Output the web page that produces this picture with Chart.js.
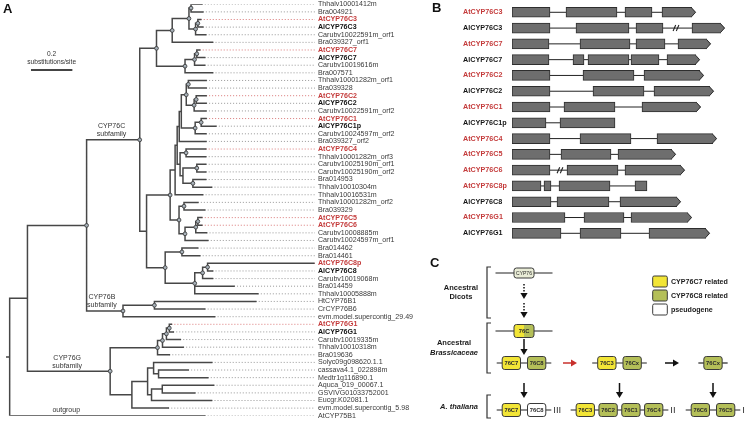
<!DOCTYPE html>
<html>
<head>
<meta charset="utf-8">
<title>CYP76C phylogeny, gene structures and synteny</title>
<script src="https://cdn.jsdelivr.net/npm/chart.js@4.4.1/dist/chart.umd.min.js"></script>
<style>
  html, body { margin: 0; padding: 0; background: #fff; }
  #page { position: relative; width: 750px; height: 421px; overflow: hidden; }
  .panel { position: absolute; }
  .tag { position: absolute; font: bold 13px/13px "Liberation Sans", Arial, sans-serif; color: #111; }
</style>
</head>
<body>
<div id="page">
  <div class="panel" style="left:0;top:-3px;width:425px;height:426px"><canvas id="treeChart"></canvas></div>
  <div class="panel" style="left:430px;top:0;width:320px;height:246px"><canvas id="geneChart"></canvas></div>
  <div class="panel" style="left:430px;top:255px;width:320px;height:166px"><canvas id="synChart"></canvas></div>
  <div class="tag" style="left:3px;top:2px">A</div>
  <div class="tag" style="left:432px;top:1px">B</div>
  <div class="tag" style="left:430px;top:256px">C</div>
</div>
<script>
const FONT = '"Liberation Sans", Arial, sans-serif';
const RED = '#c43b3b';

// ---------- A: tree, branch lengths in substitutions/site ("-" = node without circle)
const treeNewick = `(
 (
  (
   (
    (
     (
      ((Thhalv10001412m:0.052,Bra004921:0.057):0.010,
       ((AtCYP76C3:0.014,AlCYP76C3:0.024):0.011,Carubv10022591m_orf1:0.049):0.032):0.081,
      Bra039327_orf1:0.195):0.076,
     (((AtCYP76C7:0.014,AlCYP76C7:0.038):0.011,Carubv10019616m:0.049):0.046,
      Bra007571:0.133):0.138):0.081,
    (
     (
      (
       (
        (
         (((Thhalv10001282m_orf1:0.086,Bra039328:0.086):0.010,
           ((AtCYP76C2:0.048,AlCYP76C2:0.048):0.010,Carubv10022591m_orf2:0.057):0.038):0.024,
          ((AtCYP76C1:0.024,AlCYP76C1p:0.071):0.029,Carubv10024597m_orf2:0.052):0.067)-:0.010,
         Bra039327_orf2:0.129)-:0.010,
        ((AtCYP76C4:0.095,Thhalv10001282m_orf3:0.095):0.029,
         ((Carubv10025190m_orf1:0.043,Carubv10025190m_orf2:0.043):0.067,
          (Bra014953:0.062,Thhalv10010304m:0.090):0.048)-:0.014)-:0.014)-:0.010,
       Thhalv10016531m:0.133)-:0.024,
      ((Thhalv10001282m_orf2:0.067,Bra039329:0.100):0.024,
       (((AtCYP76C5:0.019,AtCYP76C6:0.019):0.010,Carubv10008885m:0.052):0.052,
        Carubv10024597m_orf1:0.110):0.029):0.043):0.114,
     ((Bra014462:0.076,Bra014461:0.086):0.081,
      (((AtCYP76C8p:0.514,AlCYP76C8:0.024):0.024,Carubv10019068m:0.048):0.038,
       Bra014459:0.190,Thhalv10005888m:0.305):0.143):0.090)-:0.033)CYP76C:0.257,
   ((HtCYP76B1:0.490,CrCYP76B6:0.243):0.152,
    evm.model.supercontig_29.49:0.443)CYP76B:0.176):0.286,
  (((((AtCYP76G1:0.010,AlCYP76G1:0.019):0.014,Carubv10019335m:0.067):0.019,
     Thhalv10010318m:0.100):0.024,Bra019636:0.057):0.229,
   (((Solyc09g098620.1.1:0.281,(cassava4.1_022898m:0.143,Medtr1g116890.1:0.238)-:0.024)-:0.029,
     ((Aquca_019_00067.1:0.248,GSVIVG01033752001:0.157)-:0.052,Eucgr.K02081.1:0.290)-:0.019)-:0.076,
    evm.model.supercontig_5.98:0.176)-:0.105)CYP76G:0.400)-:0.086,
 AtCYP75B1:0.943)-:0.014;`;

const cladeNodes = ['CYP76C', 'CYP76B', 'CYP76G', 'AtCYP75B1'];
const cladeText = [['CYP76C', 'subfamily'], ['CYP76B', 'subfamily'], ['CYP76G', 'subfamily'], ['outgroup']];
const scaleBarLen = 0.2;

// ---------- B: exon positions along each gene (as drawn), last exon arrow = coding direction
const geneNames = ['AtCYP76C3', 'AlCYP76C3', 'AtCYP76C7', 'AlCYP76C7', 'AtCYP76C2', 'AlCYP76C2',
  'AtCYP76C1', 'AlCYP76C1p', 'AtCYP76C4', 'AtCYP76C5', 'AtCYP76C6', 'AtCYP76C8p', 'AlCYP76C8',
  'AtCYP76G1', 'AlCYP76G1'];
const geneExons = [
  [[0, 38], [54, 105], [113, 140], [150, 184]],
  [[0, 38], [64, 117], [124, 151], [180, 213]],
  [[0, 37], [68, 118], [124, 153], [166, 199]],
  [[0, 37], [61, 72], [76, 117], [119, 147], [155, 188]],
  [[0, 38], [71, 122], [132, 192]],
  [[0, 38], [81, 132], [142, 202]],
  [[0, 38], [52, 103], [130, 189]],
  [[0, 34], [48, 103]],
  [[0, 38], [68, 119], [145, 205]],
  [[0, 38], [49, 99], [106, 164]],
  [[0, 38], [55, 106], [113, 173]],
  [[0, 29], [32, 39], [47, 98], [123, 135]],
  [[0, 39], [45, 97], [108, 169]],
  [[0, 53], [72, 112], [119, 180]],
  [[0, 49], [68, 109], [137, 198]]
];
const geneArrow = [true, true, true, true, true, true, true, false, true, true, true, false, true, true, true];
const geneBreaks = [null, 164, null, null, null, null, null, null, null, null, 48, null, null, null, null];

// ---------- C: synteny model
const stageLabels = [['Ancestral', 'Dicots'], ['Ancestral', 'Brassicaceae'], ['A. thaliana']];
const stageItalic = [[false, false], [false, true], [true]];
const synGenes = [
  [['CYP76']],
  [['76C']],
  [['76C7', '76C8'], ['76C3', '76Cx'], ['76Cx']],
  [['76C7', '76C8'], ['76C3', '76C2', '76C1', '76C4'], ['76C6', '76C5']]
];
const synKinds = [
  [['anc']],
  [['mix']],
  [['c7', 'c8'], ['c7', 'c8'], ['c8']],
  [['c7', 'pseudo'], ['c7', 'c8', 'c8', 'c8'], ['c8', 'c8']]
];
const chromosomes = ['III', 'II', 'I'];
const legendItems = ['CYP76C7 related', 'CYP76C8 related', 'pseudogene'];
const legendKinds = ['c7', 'c8', 'pseudo'];

// ================= tree =================
function parseNewick(str) {
  const s = str.replace(/\s+/g, '');
  let i = 0;
  function node() {
    const n = { children: [], name: '', len: 0 };
    if (s[i] === '(') {
      i++;
      n.children.push(node());
      while (s[i] === ',') { i++; n.children.push(node()); }
      i++;
    }
    while (i < s.length && !',():;'.includes(s[i])) n.name += s[i++];
    if (s[i] === ':') {
      i++;
      let num = '';
      while (i < s.length && !',();'.includes(s[i])) num += s[i++];
      n.len = parseFloat(num);
    }
    return n;
  }
  return node();
}

const tree = parseNewick(treeNewick);
const tips = [];
const inner = [];
const nodeByName = {};
(function layout(n, d) {
  n.depth = d + n.len;
  if (n.name) nodeByName[n.name] = n;
  if (!n.children.length) {
    n.y = tips.length;
    tips.push(n);
  } else {
    n.children.forEach(c => layout(c, n.depth));
    n.y = (n.children[0].y + n.children[n.children.length - 1].y) / 2;
    inner.push(n);
  }
})(tree, 0);

const PX_PER_UNIT = 210;
const TREE_W = 425, AXIS_W = 110;
const xMin = -2 / PX_PER_UNIT;
const xMax = xMin + (TREE_W - AXIS_W) / PX_PER_UNIT;

const gap = () => ({ x: null, y: null });
const branchPts = [{ x: 0, y: tree.y }, { x: tree.depth, y: tree.y }, gap()];
inner.forEach(n => {
  const cs = n.children, a = cs[0], b = cs[cs.length - 1];
  branchPts.push({ x: a.depth, y: a.y }, { x: n.depth, y: a.y }, { x: n.depth, y: b.y }, { x: b.depth, y: b.y }, gap());
  cs.slice(1, -1).forEach(c => branchPts.push({ x: n.depth, y: c.y }, { x: c.depth, y: c.y }, gap()));
});
const isAt = name => name.startsWith('AtCYP76');
const redLeaders = [], grayLeaders = [];
tips.forEach(t => {
  const arr = isAt(t.name) ? redLeaders : grayLeaders;
  arr.push({ x: t.depth, y: t.y }, { x: xMax, y: t.y }, gap());
});
const nodePts = inner.filter(n => n.name !== '-').map(n => ({ x: n.depth, y: n.y }));

const treeDecor = {
  id: 'treeDecor',
  afterDatasetsDraw(chart) {
    const { ctx, scales: { x, y } } = chart;
    ctx.save();
    ctx.fillStyle = '#333';
    ctx.textAlign = 'center';
    ctx.textBaseline = 'middle';
    ctx.font = '7px ' + FONT;
    const at = [0.47, 0.42, 0.48, 0.29];
    cladeNodes.forEach((name, i) => {
      const n = nodeByName[name];
      const x0 = x.getPixelForValue(n.depth - n.len), x1 = x.getPixelForValue(n.depth);
      const cx = x0 + (x1 - x0) * at[i];
      const cy = y.getPixelForValue(n.y);
      const lines = cladeText[i];
      lines.forEach((t, j) => ctx.fillText(t, cx, cy - 5.5 - (lines.length - 1 - j) * 8));
    });
    // scale bar (canvas sits 3px above the page top)
    const bx = 31, by = 73;
    const blen = x.getPixelForValue(scaleBarLen) - x.getPixelForValue(0);
    ctx.strokeStyle = '#444';
    ctx.lineWidth = 2;
    ctx.beginPath(); ctx.moveTo(bx, by); ctx.lineTo(bx + blen, by); ctx.stroke();
    ctx.font = '6.6px ' + FONT;
    ctx.fillText(String(scaleBarLen), bx + blen / 2, by - 16);
    ctx.fillText('substitutions/site', bx + blen / 2, by - 8);
    ctx.restore();
  }
};

new Chart(document.getElementById('treeChart'), {
  type: 'scatter',
  data: {
    datasets: [
      { data: nodePts, pointRadius: 1.9, pointBackgroundColor: '#a7b1b9', pointBorderColor: '#333', pointBorderWidth: 0.8 },
      { data: branchPts, showLine: true, borderColor: '#474747', borderWidth: 1.5, pointRadius: 0, borderCapStyle: 'square' },
      { data: redLeaders, showLine: true, borderColor: '#d66a6a', borderWidth: 0.9, borderDash: [1, 2], pointRadius: 0 },
      { data: grayLeaders, showLine: true, borderColor: '#8c8c8c', borderWidth: 0.9, borderDash: [1, 2], pointRadius: 0 }
    ]
  },
  options: {
    responsive: true,
    maintainAspectRatio: false,
    animation: false,
    events: [],
    layout: { padding: 0 },
    plugins: { legend: { display: false }, tooltip: { enabled: false } },
    scales: {
      x: { type: 'linear', display: false, min: xMin, max: xMax },
      y: {
        type: 'linear',
        position: 'right',
        reverse: true,
        min: 0,
        max: tips.length - 1,
        grid: { display: false, drawTicks: false },
        border: { display: false },
        afterBuildTicks: s => { s.ticks = tips.map((t, i) => ({ value: i })); },
        afterFit: s => { s.width = AXIS_W; },
        ticks: {
          autoSkip: false,
          padding: 3,
          callback: v => (tips[v] ? tips[v].name : ''),
          color: c => {
            const n = tips[c.index] ? tips[c.index].name : '';
            return isAt(n) ? RED : n.startsWith('AlCYP76') ? '#111' : '#3a3a3a';
          },
          font: c => {
            const n = tips[c.index] ? tips[c.index].name : '';
            return { family: FONT, size: 7.1, weight: /^A[tl]CYP76/.test(n) ? 'bold' : 'normal' };
          }
        }
      }
    }
  },
  plugins: [treeDecor]
});

// ================= gene structures =================
const EXON_FILL = '#6e6e6e', EXON_EDGE = '#2e2e2e', TIP = 4;
const exonSets = [0, 1, 2, 3, 4].map(k => ({
  data: geneExons.map((ex, i) => {
    if (!ex[k]) return null;
    const last = k === ex.length - 1 && geneArrow[i];
    return [ex[k][0], last ? ex[k][1] - TIP : ex[k][1]];
  }),
  backgroundColor: EXON_FILL,
  borderColor: EXON_EDGE,
  borderWidth: 1,
  borderSkipped: c => (geneArrow[c.dataIndex] && c.datasetIndex === geneExons[c.dataIndex].length - 1 ? 'right' : false),
  barThickness: 10,
  grouped: false
}));

const geneParts = {
  id: 'geneParts',
  beforeDatasetsDraw(chart) {
    const { ctx, scales: { x, y } } = chart;
    ctx.save();
    ctx.strokeStyle = '#222';
    ctx.lineWidth = 1;
    geneExons.forEach((ex, i) => {
      const yy = y.getPixelForValue(i);
      for (let k = 0; k < ex.length - 1; k++) {
        ctx.beginPath();
        ctx.moveTo(x.getPixelForValue(ex[k][1]), yy);
        ctx.lineTo(x.getPixelForValue(ex[k + 1][0]), yy);
        ctx.stroke();
      }
      if (geneBreaks[i] !== null) {
        const bx = x.getPixelForValue(geneBreaks[i]);
        ctx.lineWidth = 1.1;
        [-1.6, 1.6].forEach(o => {
          ctx.beginPath();
          ctx.moveTo(bx + o - 1.3, yy + 3);
          ctx.lineTo(bx + o + 1.3, yy - 3);
          ctx.stroke();
        });
        ctx.lineWidth = 1;
      }
    });
    ctx.restore();
  },
  afterDatasetsDraw(chart) {
    const { ctx, scales: { x } } = chart;
    ctx.save();
    geneExons.forEach((ex, i) => {
      if (!geneArrow[i]) return;
      const k = ex.length - 1;
      const el = chart.getDatasetMeta(k).data[i];
      const p = el.getProps(['x', 'y', 'height'], true);
      const top = p.y - p.height / 2, bot = p.y + p.height / 2;
      const tip = x.getPixelForValue(ex[k][1]);
      ctx.fillStyle = EXON_FILL;
      ctx.beginPath();
      ctx.moveTo(p.x - 0.5, top + 0.5); ctx.lineTo(tip, p.y); ctx.lineTo(p.x - 0.5, bot - 0.5);
      ctx.closePath(); ctx.fill();
      ctx.strokeStyle = EXON_EDGE;
      ctx.lineWidth = 1;
      ctx.beginPath();
      ctx.moveTo(p.x - 0.5, top + 0.5); ctx.lineTo(tip - 0.5, p.y); ctx.lineTo(p.x - 0.5, bot - 0.5);
      ctx.stroke();
    });
    ctx.restore();
  }
};

new Chart(document.getElementById('geneChart'), {
  type: 'bar',
  data: { labels: geneNames, datasets: exonSets },
  options: {
    indexAxis: 'y',
    responsive: true,
    maintainAspectRatio: false,
    animation: false,
    events: [],
    layout: { padding: { left: 33, top: 4.4, bottom: 4.8, right: 0 } },
    plugins: { legend: { display: false }, tooltip: { enabled: false } },
    scales: {
      x: { type: 'linear', display: false, min: 0, max: 238 },
      y: {
        type: 'category',
        grid: { display: false, drawTicks: false },
        border: { display: false },
        afterFit: s => { s.width = 49; },
        ticks: {
          crossAlign: 'far',
          padding: 0,
          color: c => (geneNames[c.index].startsWith('At') ? RED : '#151515'),
          font: { family: FONT, size: 7.2, weight: 'bold' }
        }
      }
    }
  },
  plugins: [geneParts]
});

// ================= synteny model =================
const KIND_FILL = { anc: '#e9ecd6', c7: '#f2e536', c8: '#b4bf58', pseudo: '#ffffff' };

function rrect(ctx, x, y, w, h, r) {
  ctx.beginPath();
  if (ctx.roundRect) ctx.roundRect(x, y, w, h, r); else ctx.rect(x, y, w, h);
}

const synPlugin = {
  id: 'synteny',
  afterDraw(chart) {
    const { ctx, scales: { x, y } } = chart;
    const X = v => x.getPixelForValue(v), Y = v => y.getPixelForValue(v);
    const rowY = [18, 76, 108, 155];
    const colX = [94, 189.5, 283];
    ctx.save();

    // brackets and stage names
    const brackets = [[12, 63], [68, 118], [140, 163]];
    brackets.forEach(([a, b], i) => {
      ctx.strokeStyle = '#333';
      ctx.lineWidth = 1.2;
      ctx.beginPath();
      ctx.moveTo(X(61), Y(a)); ctx.lineTo(X(57), Y(a)); ctx.lineTo(X(57), Y(b)); ctx.lineTo(X(61), Y(b));
      ctx.stroke();
      const lines = stageLabels[i];
      const fonts = lines.map((t, j) => (stageItalic[i][j] ? 'italic ' : '') + 'bold 7.5px ' + FONT);
      let w = 0;
      lines.forEach((t, j) => { ctx.font = fonts[j]; w = Math.max(w, ctx.measureText(t).width); });
      const cx = X(48) - w / 2;
      ctx.fillStyle = '#1a1a1a';
      ctx.textAlign = 'center';
      ctx.textBaseline = 'middle';
      lines.forEach((t, j) => {
        ctx.font = fonts[j];
        ctx.fillText(t, cx, Y((a + b) / 2 + (j - (lines.length - 1) / 2) * 9.5));
      });
    });

    // chromosome segments with genes
    synGenes.forEach((row, r) => row.forEach((group, c) => {
      const w = r < 2 ? 20 : 18.3, h = r === 0 ? 10 : 13;
      const g = group.length > 2 ? 4.5 : 7;
      const ext = r < 2 ? 18.5 : 5.5;
      const total = group.length * w + (group.length - 1) * g;
      const x0 = colX[c] - total / 2, cy = rowY[r];
      ctx.strokeStyle = '#222';
      ctx.lineWidth = 1.2;
      ctx.beginPath(); ctx.moveTo(X(x0 - ext), Y(cy)); ctx.lineTo(X(x0 + total + ext), Y(cy)); ctx.stroke();
      group.forEach((name, k) => {
        const bx = X(x0 + k * (w + g)), by = Y(cy - h / 2);
        const kind = synKinds[r][c][k];
        if (kind === 'mix') {
          const grad = ctx.createLinearGradient(bx, 0, bx + w, 0);
          grad.addColorStop(0, KIND_FILL.c7); grad.addColorStop(0.5, KIND_FILL.c7);
          grad.addColorStop(0.5, KIND_FILL.c8); grad.addColorStop(1, KIND_FILL.c8);
          ctx.fillStyle = grad;
        } else {
          ctx.fillStyle = KIND_FILL[kind];
        }
        rrect(ctx, bx, by, w, h, 2.5);
        ctx.fill();
        ctx.strokeStyle = '#3a3a3a';
        ctx.lineWidth = 1;
        ctx.stroke();
        ctx.fillStyle = '#2a2a2a';
        ctx.textAlign = 'center';
        ctx.textBaseline = 'middle';
        ctx.font = (kind === 'anc' ? '5px ' : 'bold 5.8px ') + FONT;
        ctx.fillText(name, bx + w / 2, Y(cy) + 0.5);
      });
      if (r === 3) {
        ctx.fillStyle = '#333';
        ctx.textAlign = 'left';
        ctx.font = '9.5px ' + FONT;
        ctx.fillText(chromosomes[c], X(x0 + total + ext + 2), Y(cy) + 0.5);
      }
    }));

    // arrows
    function head(tx, ty, dx, dy, color) {
      ctx.fillStyle = color;
      ctx.beginPath();
      ctx.moveTo(tx, ty);
      ctx.lineTo(tx - dx * 6 - dy * 3.6, ty - dy * 6 - dx * 3.6);
      ctx.lineTo(tx - dx * 6 + dy * 3.6, ty - dy * 6 + dx * 3.6);
      ctx.closePath();
      ctx.fill();
    }
    function arrowDown(cx, y0, y1, dotted) {
      ctx.strokeStyle = '#111';
      ctx.lineWidth = 1.5;
      ctx.setLineDash(dotted ? [1.5, 1.5] : []);
      ctx.beginPath(); ctx.moveTo(X(cx), Y(y0)); ctx.lineTo(X(cx), Y(y1 - 5)); ctx.stroke();
      ctx.setLineDash([]);
      head(X(cx), Y(y1), 0, 1, '#111');
    }
    function arrowRight(x0, x1, cy, color) {
      ctx.strokeStyle = color;
      ctx.lineWidth = 1.5;
      ctx.beginPath(); ctx.moveTo(X(x0), Y(cy)); ctx.lineTo(X(x1 - 5), Y(cy)); ctx.stroke();
      head(X(x1), Y(cy), 1, 0, color);
    }
    arrowDown(colX[0], 29, 44, true);
    arrowDown(colX[0], 48, 63, true);
    arrowDown(colX[0], 84, 100, false);
    colX.forEach(cx => arrowDown(cx, 128, 143, false));
    arrowRight(133, 147, rowY[2], '#c8302c');
    arrowRight(235, 249, rowY[2], '#111');

    // legend
    legendItems.forEach((t, i) => {
      const cy = 26.5 + i * 14;
      rrect(ctx, X(222.7), Y(cy - 5.5), 14.6, 11, 1.5);
      ctx.fillStyle = KIND_FILL[legendKinds[i]];
      ctx.fill();
      ctx.strokeStyle = '#3a3a3a';
      ctx.lineWidth = 1;
      ctx.stroke();
      ctx.fillStyle = '#1a1a1a';
      ctx.textAlign = 'left';
      ctx.textBaseline = 'middle';
      ctx.font = 'bold 7.1px ' + FONT;
      ctx.fillText(t, X(241), Y(cy) + 0.5);
    });
    ctx.restore();
  }
};

new Chart(document.getElementById('synChart'), {
  type: 'scatter',
  data: { datasets: [] },
  options: {
    responsive: true,
    maintainAspectRatio: false,
    animation: false,
    events: [],
    layout: { padding: 0 },
    plugins: { legend: { display: false }, tooltip: { enabled: false } },
    scales: {
      x: { type: 'linear', display: false, min: 0, max: 320 },
      y: { type: 'linear', display: false, min: 0, max: 166, reverse: true }
    }
  },
  plugins: [synPlugin]
});
</script>
</body>
</html>
